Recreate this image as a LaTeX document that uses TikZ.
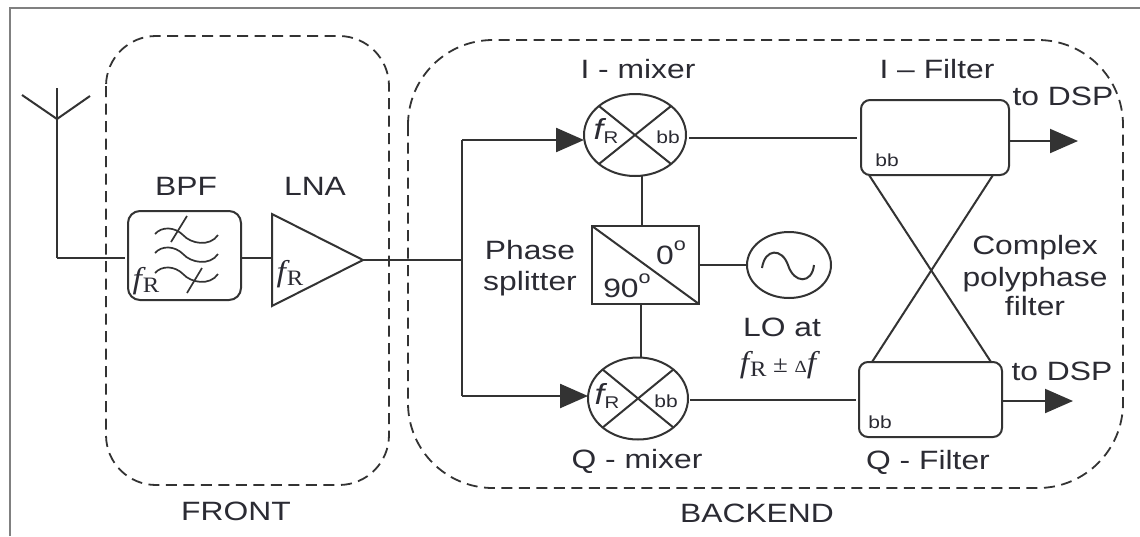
\documentclass[tikz,border=0pt]{standalone}
\usepackage{fontspec}
\setmainfont{Liberation Sans}
\newfontfamily\labf[FakeStretch=1.2]{Liberation Sans}
\newfontfamily\serf[FakeStretch=1.12]{Liberation Serif}
\usetikzlibrary{shapes.geometric,arrows.meta}
\definecolor{ink}{HTML}{333333}
\definecolor{txt}{HTML}{2B2B33}
\definecolor{framec}{HTML}{808080}
\newcommand{\degsup}{\raisebox{.5em}{\fontsize{18}{18}\selectfont o}}
\newcommand{\serfr}{{\serf\fontsize{30}{30}\selectfont\itshape f\kern1pt\raisebox{-4pt}{\fontsize{22}{22}\selectfont\upshape R}}}
\newcommand{\sanfr}{{\labf\fontsize{29}{29}\selectfont\itshape f\kern.5pt\raisebox{-4pt}{\fontsize{17}{17}\selectfont\upshape R}}}
\tikzset{
  wire/.style={draw=ink,line width=2pt},
  blockbox/.style={draw=ink,line width=2pt,inner sep=0pt,outer sep=0pt},
  roundbox/.style={blockbox,rectangle,rounded corners=9pt},
  mixerbox/.style={blockbox,ellipse,minimum width=102pt,minimum height=82pt},
  group/.style={draw=ink,line width=1.8pt,dash pattern=on 11pt off 6.5pt,rounded corners=#1},
  lab/.style={anchor=base,inner sep=0pt,text=txt,font=\labf\fontsize{26.5}{30}\selectfont},
  small/.style={anchor=base,inner sep=0pt,text=txt,font=\labf\fontsize{17.5}{20}\selectfont},
  sym/.style={anchor=base,inner sep=0pt,text=txt},
  feed/.style={wire,-{Triangle[length=28pt,width=24pt]}}
}
\begin{document}
\begin{tikzpicture}[x=1pt,y=-1pt]
\useasboundingbox (0,0) rectangle (1140,536);
\fill[white] (0,0) rectangle (1140,536);
% outer frame
\draw[framec,line width=2.5pt] (10,536) -- (10,8) -- (1140,8);
% dashed groups
\draw[group=50pt] (106,36) rectangle (389,485);
\draw[group=85pt] (408,40) rectangle (1123,488);
% blocks
\node[roundbox,minimum width=113pt,minimum height=89pt,rounded corners=12pt] (bpf) at (184.5,255.5) {};
\node[blockbox,rectangle,minimum width=107pt,minimum height=78pt,line width=2.4pt] (ps) at (645.5,265) {};
\node[mixerbox] (mi) at (635,135) {};
\node[mixerbox,minimum width=100pt] (mq) at (638,398.5) {};
\node[blockbox,ellipse,minimum width=84pt,minimum height=66pt] (lo) at (789,265) {};
\node[roundbox,minimum width=148pt,minimum height=75pt] (fi) at (935,137.5) {};
\node[roundbox,minimum width=143pt,minimum height=75pt] (fq) at (930.5,399.5) {};
% LNA triangle
\coordinate (lnaT) at (272,214);
\coordinate (lnaB) at (272,306);
\coordinate (lnaIn) at (272,258);
\coordinate (lnaOut) at (363,260);
\draw[blockbox] (lnaT) -- (lnaOut) -- (lnaB) -- cycle;
% antenna
\coordinate (antL) at (22,95);
\coordinate (antR) at (90,96);
\coordinate (antT) at (57,88);
\coordinate (antC) at (57,119);
\coordinate (antF) at (57,258);
\draw[wire] (antL) -- (antC) -- (antR);
\draw[wire] (antT) -- (antF);
\draw[wire,shorten >=3pt] (antF) -- (antF -| bpf.west);
% chain
\draw[wire] (bpf.east |- lnaIn) -- (lnaIn);
\coordinate (spl) at (462,260);
\coordinate (splT) at (462,140);
\coordinate (splB) at (462,396);
\draw[wire] (lnaOut) -- (spl);
\draw[wire,line width=2.4pt] (splT) -- (splB);
\draw[feed,line width=2.4pt] (splT) -- (splT -| mi.west);
\draw[feed,line width=2.4pt] (splB) -- (splB -| mq.west);
% mixer crosses
\draw[wire] (mi.north west) -- (mi.south east);
\draw[wire] (mi.north east) -- (mi.south west);
\draw[wire] (mq.north west) -- (mq.south east);
\draw[wire] (mq.north east) -- (mq.south west);
% splitter
\draw[wire] (ps.north west) -- (ps.south east);
\draw[wire] ([xshift=-3.5pt]ps.north) -- ([xshift=-3.5pt]ps.north |- mi.south);
\draw[wire,line width=2.4pt] ([xshift=-4.5pt]ps.south) -- ([xshift=-4.5pt]ps.south |- mq.north);
\draw[wire] (ps.east |- lo.west) -- (lo.west);
% LO sine
\draw[wire] (762,268) .. controls (765,248) and (782,248) .. (788,265) .. controls (794,284) and (812,284) .. (814,265);
% BPF symbols
\foreach \dy in {0,19,39}{
  \draw[ink,line width=1.7pt,shift={(0,\dy)}] (155,234) .. controls (162,226) and (175,227) .. (183,235) .. controls (191,244) and (210,247) .. (218,235);
}
\draw[ink,line width=1.7pt] (187,216) -- (171,242);
\draw[ink,line width=1.7pt] (202,268) -- (187,293);
% to filters
\draw[wire,shorten >=4pt,shorten <=3pt] ([yshift=-3pt]mi.east) -- ([yshift=-3pt]mi.east -| fi.west);
\draw[wire,shorten >=3pt,shorten <=2pt] ([yshift=-1.5pt]mq.east) -- ([yshift=-1.5pt]mq.east -| fq.west);
% outputs
\coordinate (outI) at (1078,141);
\coordinate (outQ) at (1073,401);
\draw[feed] (outI -| fi.east) -- (outI);
\draw[feed] (outQ -| fq.east) -- (outQ);
% polyphase cross
\coordinate (c1) at (869,175);
\coordinate (c2) at (993,175);
\coordinate (c3) at (872,362);
\coordinate (c4) at (991,362);
\draw[wire] (c1) -- (c4);
\draw[wire] (c2) -- (c3);
% labels
\node[lab] (tbpf) at (186,195) {BPF};
\node[lab] (tlna) at (315,195) {LNA};
\node[lab] (tim) at (638,78) {I - mixer};
\node[lab] (tqm) at (637,468) {Q - mixer};
\node[lab] (tif) at (937,78) {I – Filter};
\node[lab] (tqf) at (928,469) {Q - Filter};
\node[lab] (td1) at (1063,105) {to DSP};
\node[lab] (td2) at (1062,380) {to DSP};
\node[lab] (tph) at (530,259) {Phase};
\node[lab] (tsp) at (530,290) {splitter};
\node[lab] (tc1) at (1035,254) {Complex};
\node[lab] (tc2) at (1035,286) {polyphase};
\node[lab] (tc3) at (1035,315) {filter};
\node[lab] (tlo) at (782,336) {LO at};
\node[lab] (tfr) at (236,520) {FRONT};
\node[lab] (tbk) at (757,522) {BACKEND};
\node[lab] (t0) at (671,264) {0\degsup};
\node[lab] (t90) at (627,297) {90\degsup};
\node[small] (b1) at (668,143) {bb};
\node[small] (b2) at (666,407) {bb};
\node[small] (b3) at (887,166) {bb};
\node[small] (b4) at (880,428) {bb};
\node[sym] (f1) at (146,288) {\serfr};
\node[sym] (f2) at (290,281) {\serfr};
\node[sym] (f3) at (606,139) {\sanfr};
\node[sym] (f4) at (607,404) {\sanfr};
\node[sym] (f5) at (778,372) {\serfr{\serf\fontsize{24}{24}\selectfont\;±\;}{\serf\fontsize{17}{17}\selectfont Δ}{\serf\fontsize{30}{30}\selectfont\itshape f}};
\end{tikzpicture}
\end{document}
